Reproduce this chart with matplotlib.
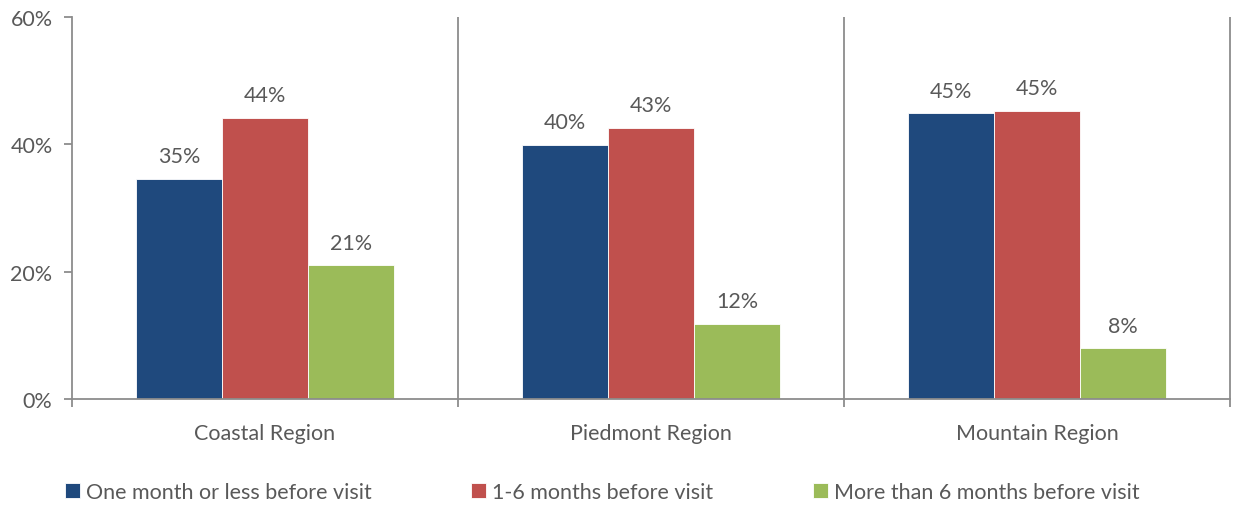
import matplotlib.pyplot as plt
import numpy as np

regions = ["Coastal Region", "Piedmont Region", "Mountain Region"]
series_names = ["One month or less before visit", "1-6 months before visit",
                "More than 6 months before visit"]
one_month = [34.6, 39.9, 44.9]
one_to_six = [44.2, 42.6, 45.3]
over_six = [21.0, 11.8, 8.0]
yticks = [0, 20, 40, 60]

colors = ["#1F497D", "#C0504D", "#9BBB59"]
text_col = "#595959"
axis_col = "#8C8C8C"

plt.rcParams['font.family'] = ['Lato', 'DejaVu Sans']
fs = 15.5

fig = plt.figure(figsize=(12.35, 5.06), dpi=100)
ax = fig.add_axes([72/1235, 1 - 400/506, (1230 - 72)/1235, (400 - 18)/506])

x = np.arange(len(regions))
w = 0.2228
data = [one_month, one_to_six, over_six]
for i, vals in enumerate(data):
    bars = ax.bar(x + (i - 1) * w, vals, width=w, color=colors[i],
                  label=series_names[i], edgecolor='white', linewidth=0.6)
    for b, v in zip(bars, vals):
        ax.annotate("%d%%" % round(v), (b.get_x() + b.get_width() / 2, v),
                    xytext=(0, 9), textcoords='offset points', ha='center',
                    va='bottom', fontsize=fs, color=text_col)

ax.set_xlim(-0.5, 2.5)
ax.set_ylim(0, 60)

# separators between regions
ax.vlines([0.5, 1.5, 2.5], 0, 60, color=axis_col, linewidth=1.3, clip_on=False)

for s in ['top', 'right']:
    ax.spines[s].set_visible(False)
for s in ['left', 'bottom']:
    ax.spines[s].set_color(axis_col)
    ax.spines[s].set_linewidth(1.3)

ax.set_yticks(yticks)
ax.set_yticklabels(["%d%%" % t for t in yticks])
ax.set_xticks(x)
ax.set_xticklabels(regions)
ax.set_xticks([-0.5, 0.5, 1.5, 2.5], minor=True)
ax.tick_params(axis='x', which='major', length=0, pad=17, labelsize=fs, labelcolor=text_col)
ax.tick_params(axis='x', which='minor', length=6, width=1.3, color=axis_col)
ax.tick_params(axis='y', length=6, width=1.3, color=axis_col, labelsize=fs,
               labelcolor=text_col, pad=8)

leg = fig.legend(loc='center left', bbox_to_anchor=(56/1235, 1 - 493/506), ncol=3,
                 frameon=False, fontsize=fs, handlelength=0.7, handleheight=0.7,
                 handletextpad=0.3, columnspacing=4.6, borderaxespad=0)
for t in leg.get_texts():
    t.set_color(text_col)

fig.savefig("out.png", dpi=100)
